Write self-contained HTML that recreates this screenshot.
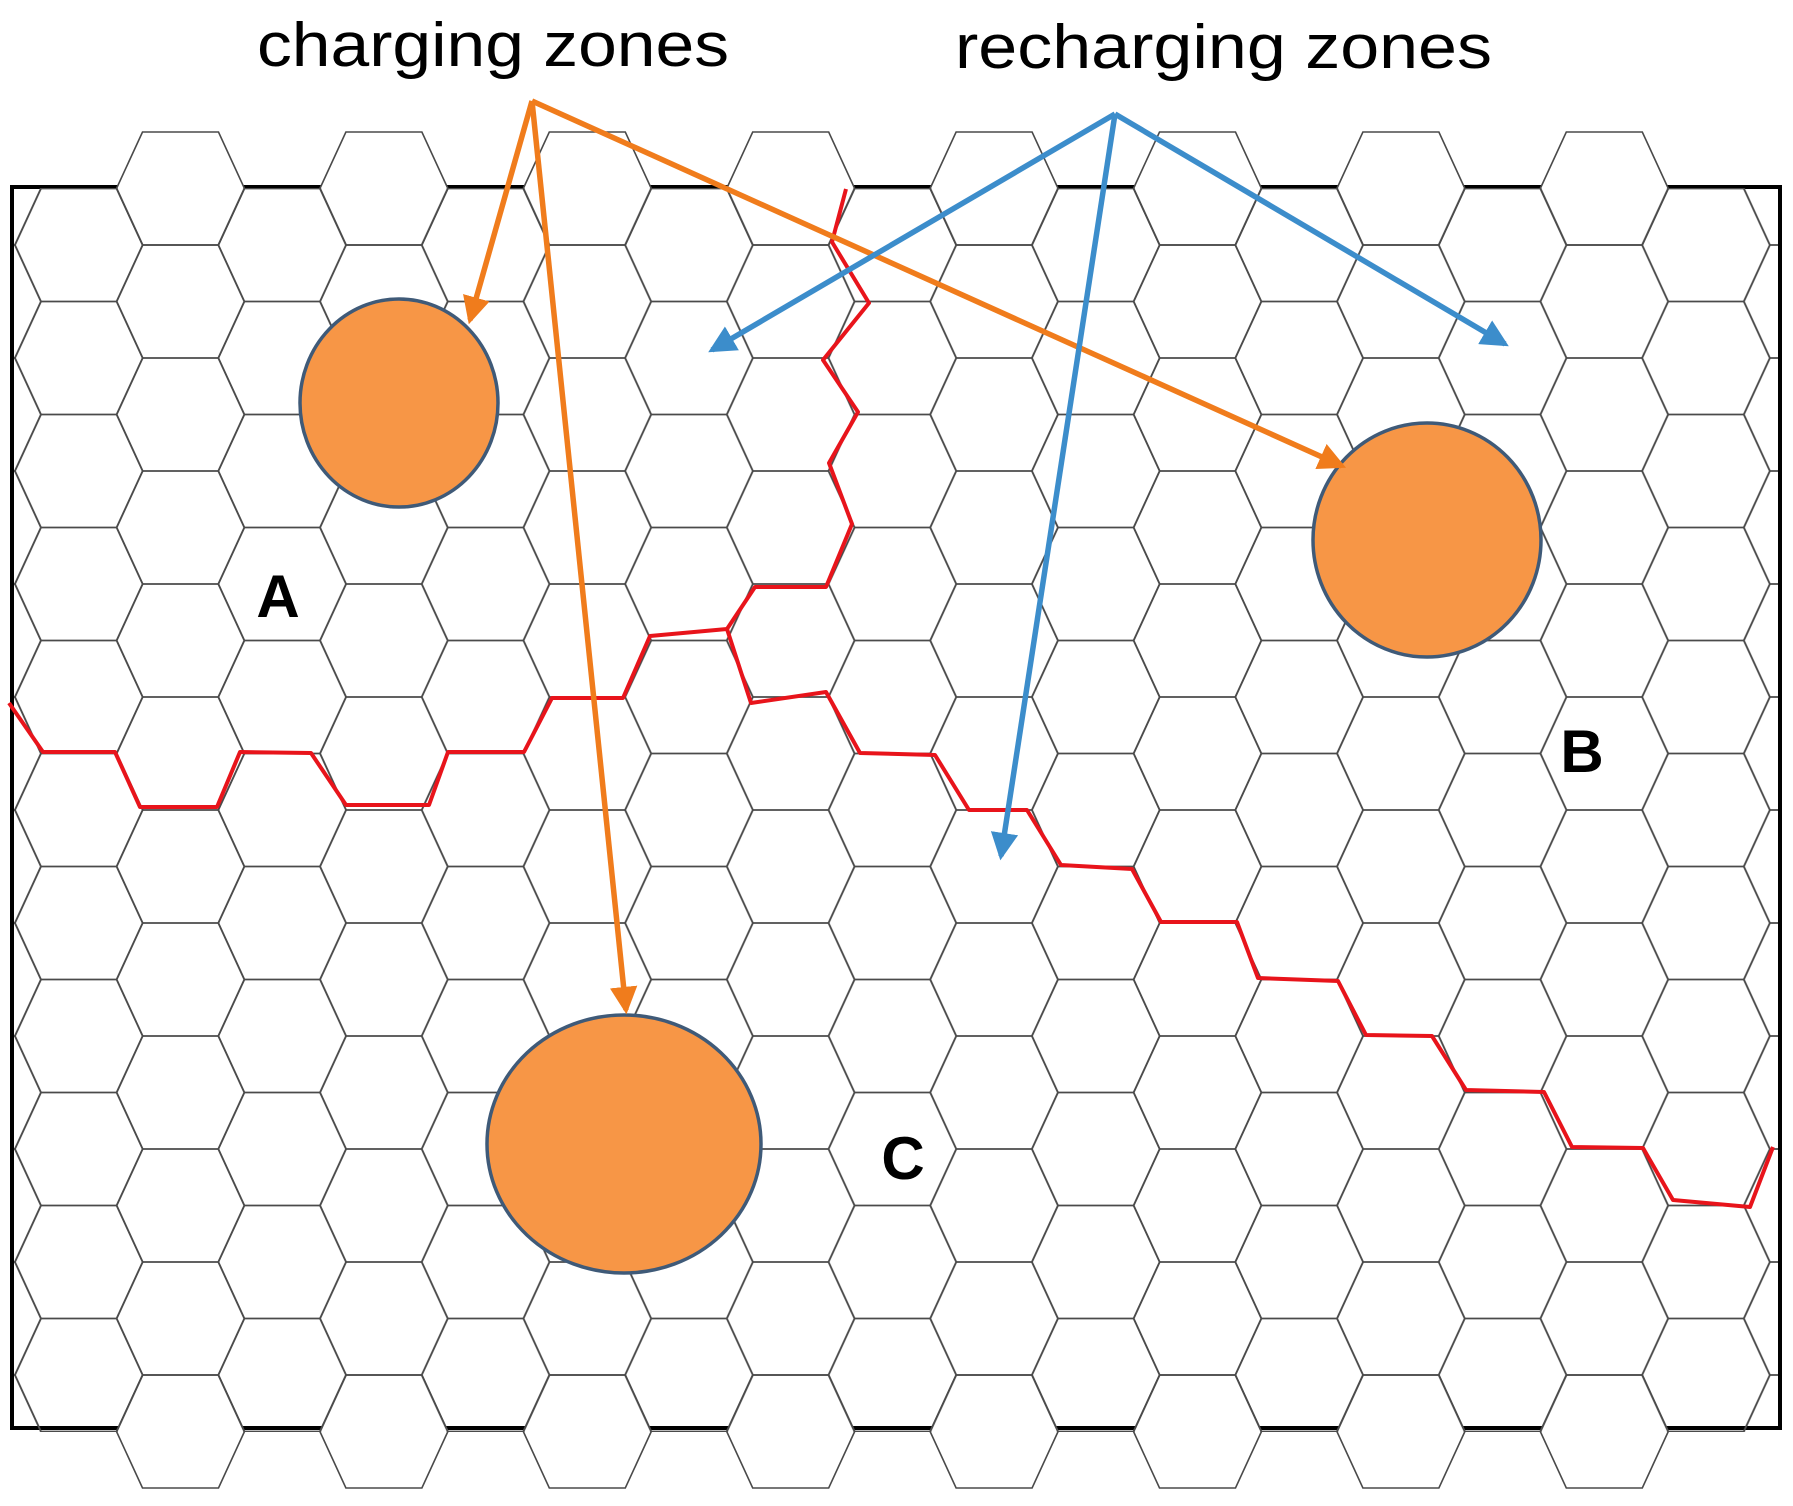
<!DOCTYPE html>
<html><head><meta charset="utf-8"><style>html,body{margin:0;padding:0;background:#fff}svg{display:block}</style></head>
<body>
<svg width="1793" height="1506" viewBox="0 0 1793 1506" xmlns="http://www.w3.org/2000/svg">
<defs>
<polygon id="hx" points="-64,0 -38,-56.5 38,-56.5 64,0 38,56.5 -38,56.5"/>
<pattern id="grid" patternUnits="userSpaceOnUse" x="180.5" y="188.5" width="203.4" height="113">
<g fill="none" stroke="#4a4a4a" stroke-width="1.6">
<use href="#hx" x="0" y="0"/><use href="#hx" x="0" y="113"/>
<use href="#hx" x="203.4" y="0"/><use href="#hx" x="203.4" y="113"/>
<use href="#hx" x="101.7" y="-56.5"/><use href="#hx" x="101.7" y="56.5"/><use href="#hx" x="101.7" y="169.5"/>
</g>
</pattern>
<marker id="ao" markerWidth="5" markerHeight="5" refX="4.2" refY="2.5" orient="auto" markerUnits="strokeWidth"><path d="M0,0 L5,2.5 L0,5 z" fill="#F07C1C"/></marker>
<marker id="ab" markerWidth="5" markerHeight="5" refX="4.2" refY="2.5" orient="auto" markerUnits="strokeWidth"><path d="M0,0 L5,2.5 L0,5 z" fill="#3C8DCB"/></marker>
</defs>
<rect width="1793" height="1506" fill="#fff"/>
<rect x="12" y="187" width="1768" height="1241" fill="none" stroke="#000" stroke-width="4"/>
<g fill="#fff" stroke="#4a4a4a" stroke-width="1.6">
<use href="#hx" x="180.5" y="188.5"/><use href="#hx" x="383.9" y="188.5"/><use href="#hx" x="587.3" y="188.5"/><use href="#hx" x="790.7" y="188.5"/>
<use href="#hx" x="994.1" y="188.5"/><use href="#hx" x="1197.5" y="188.5"/><use href="#hx" x="1400.9" y="188.5"/><use href="#hx" x="1604.3" y="188.5"/>
<use href="#hx" x="180.5" y="1431.5"/><use href="#hx" x="383.9" y="1431.5"/><use href="#hx" x="587.3" y="1431.5"/><use href="#hx" x="790.7" y="1431.5"/>
<use href="#hx" x="994.1" y="1431.5"/><use href="#hx" x="1197.5" y="1431.5"/><use href="#hx" x="1400.9" y="1431.5"/><use href="#hx" x="1604.3" y="1431.5"/>
</g>
<rect x="13" y="188" width="1766" height="1244" fill="url(#grid)"/>
<path d="M1780,187 V1428 M12,187 V1428" stroke="#000" stroke-width="4"/>

<g fill="none" stroke="#E8141B" stroke-width="4" stroke-linejoin="round">
<path d="M9,703 L43,752 L115,752 L140,807 L217,807 L240,752 L311,753 L346,805 L429,805 L448,752 L524,752 L552,698 L623,698 L650,636 L727,629 L755,587 L826,587 L852,524 L829,463 L858,412 L823,360 L869,303 L832,242 L846,189"/>
<path d="M727,629 L751,703 L826,692 L860,753 L935,755 L969,810 L1027,810 L1061,865 L1132,869 L1161,922 L1237,922 L1258,978 L1338,981 L1366,1035 L1432,1036 L1466,1090 L1544,1092 L1572,1147 L1643,1148 L1673,1200 L1750,1207 L1773,1147"/>
</g>

<g fill="#F79646" stroke="#3F5A78" stroke-width="3.5">
<ellipse cx="399" cy="403" rx="99" ry="104"/>
<ellipse cx="1427" cy="540" rx="114" ry="117"/>
<ellipse cx="624" cy="1144" rx="137" ry="129"/>
</g>

<g fill="none" stroke="#F07C1C" stroke-width="5.5">
<path d="M532,101 L470,320" marker-end="url(#ao)"/>
<path d="M532,101 L626,1010" marker-end="url(#ao)"/>
<path d="M532,101 L1342,466" marker-end="url(#ao)"/>
</g>
<g fill="none" stroke="#3C8DCB" stroke-width="5.5">
<path d="M1115,114 L712,350" marker-end="url(#ab)"/>
<path d="M1115,114 L1505,344" marker-end="url(#ab)"/>
<path d="M1115,114 L1001,856" marker-end="url(#ab)"/>
</g>

<g font-family="Liberation Sans, Arial, sans-serif" fill="#000">
<text x="257" y="66" font-size="62" textLength="472" lengthAdjust="spacingAndGlyphs">charging zones</text>
<text x="955" y="68" font-size="62" textLength="537" lengthAdjust="spacingAndGlyphs">recharging zones</text>
<text x="278" y="617" font-size="60" font-weight="bold" text-anchor="middle">A</text>
<text x="1582" y="772" font-size="60" font-weight="bold" text-anchor="middle">B</text>
<text x="903" y="1179" font-size="60" font-weight="bold" text-anchor="middle">C</text>
</g>
</svg>
</body></html>
